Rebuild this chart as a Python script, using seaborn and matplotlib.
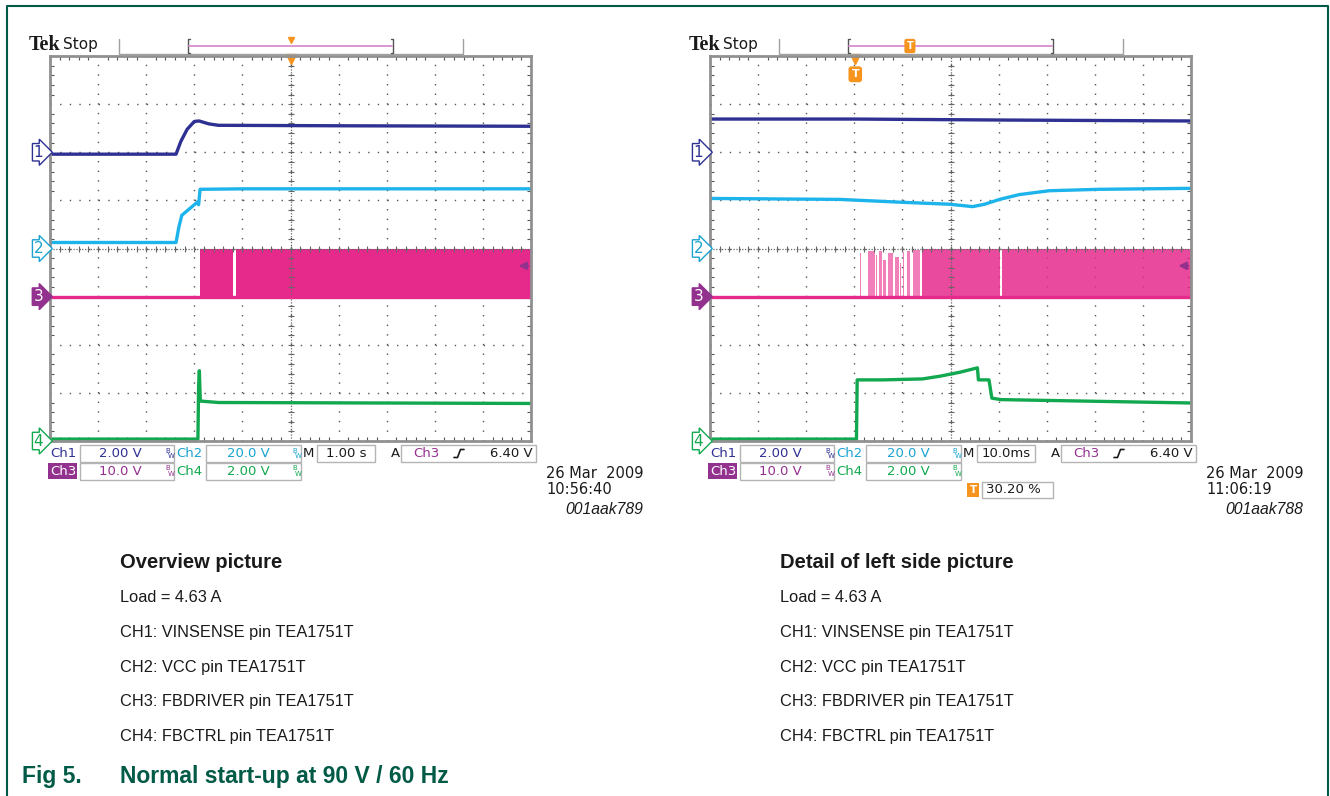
import numpy as np
import pandas as pd
import matplotlib
matplotlib.use('Agg')
import matplotlib.pyplot as plt
import seaborn as sns
from matplotlib.patches import Rectangle
from matplotlib.lines import Line2D

sns.set_theme(style='white')
plt.rcParams['font.family'] = ['DejaVu Sans']

# <------------------------------------------------> data
# channel settings: volts per division and marker position in divisions
ch_names = ['Ch1', 'Ch2', 'Ch3', 'Ch4']
ch_scale = [2.0, 20.0, 10.0, 2.0]
ch_scale_txt = ['2.00 V', '20.0 V', '10.0 V', '2.00 V']
ch_offset = [6, 4, 3, 0]
trig_level = 6.40  # V on Ch3

# overview, 1.00 s/div, time in s
ov_ch1_t = [0, 2.62, 2.72, 2.85, 3.0, 3.1, 3.3, 3.5, 6.0, 10.0]
ov_ch1_v = [-0.08, -0.08, 0.45, 0.95, 1.28, 1.30, 1.18, 1.12, 1.10, 1.08]
ov_ch2_t = [0, 2.62, 2.68, 2.74, 2.9, 3.06, 3.09, 3.12, 4.0, 10.0]
ov_ch2_v = [2.5, 2.5, 9.0, 13.8, 16.5, 19.2, 18.2, 24.6, 24.8, 24.8]
ov_ch3_bursts = [(3.12, 3.81), (3.86, 10.0)]
ov_ch3_high = [9.8, 9.8]
ov_ch4_t = [0, 3.075, 3.09, 3.105, 3.125, 3.5, 10.0]
ov_ch4_v = [0.08, 0.08, 2.3, 2.92, 1.66, 1.60, 1.56]

# detail, 10.0 ms/div, time in ms, trigger at 30.20 %
dt_ch1_t = [0, 30, 60, 100]
dt_ch1_v = [1.38, 1.38, 1.34, 1.30]
dt_ch2_t = [0, 27.0, 40.0, 49.8, 54.6, 57.1, 60.2, 64.3, 70.5, 80.9, 100]
dt_ch2_v = [20.8, 20.4, 19.2, 18.4, 17.4, 18.4, 20.4, 22.4, 24.0, 24.6, 25.0]
dt_ch3_bursts = [(30.5, 30.6), (31.2, 31.3), (32.0, 32.1), (32.8, 34.2), (34.6, 34.7),
                 (35.1, 35.7), (35.9, 36.5), (37.1, 38.0), (38.4, 39.2), (39.6, 39.7),
                 (40.2, 40.3), (40.9, 41.5), (42.1, 43.6), (44.0, 60.2), (60.8, 100.0)]
dt_ch3_high = [8.8, 9.0, 8.4, 9.4, 8.6, 9.4, 7.6, 9.0, 8.2, 7.0, 9.2, 9.4, 9.6, 9.8, 9.8]
dt_ch4_t = [0, 30.45, 30.6, 36, 44.2, 48, 52, 55.6, 55.8, 58.0, 58.6, 60.5, 100]
dt_ch4_v = [0.08, 0.08, 2.54, 2.54, 2.58, 2.70, 2.86, 3.04, 2.54, 2.54, 1.78, 1.72, 1.58]

# <------------------------------------------------> colours
C1 = '#2e3192'
C2 = '#1db4ec'
C3 = '#e62a8c'
C4 = '#12a84f'
PURPLE = '#93318f'
ORANGE = '#f7941d'
GRID = '#555555'
FRAME = '#909090'
TXT = '#1a1a1a'
CAPTION = '#005a46'
ch_colors = [C1, '#1aa3d1', PURPLE, C4]

W, H = 1330, 796
fig = plt.figure(figsize=(W / 100, H / 100), dpi=100)


def fx(x):
    return x / W


def fy(y):
    return 1 - y / H


def fline(xs, ys, **kw):
    fig.add_artist(Line2D([fx(v) for v in xs], [fy(v) for v in ys], **kw))


def frect(x0, y0, x1, y1, **kw):
    fig.add_artist(Rectangle((fx(x0), fy(y1)), fx(x1) - fx(x0), (y1 - y0) / H, **kw))


def ftext(x, y, s, **kw):
    kw.setdefault('va', 'center')
    kw.setdefault('fontsize', 9.5)
    fig.text(fx(x), fy(y), s, **kw)


def bw(x, y, c):
    ftext(x, y - 3, 'B', fontsize=5, color=c)
    ftext(x + 3, y + 2, 'W', fontsize=5, color=c)


def draw_scope(gx, t_div, tb_txt, trig_pct, traces, bursts, highs, burst_alpha,
               date_txt, time_txt, code_txt, show_tpos):
    gy0, gy1 = 56, 441
    ax = fig.add_axes([fx(gx), fy(gy1), 481 / W, (gy1 - gy0) / H])
    ax.set_xlim(0, 10)
    ax.set_ylim(0, 8)

    # graticule
    ax.set_xticks(range(11))
    ax.set_yticks(range(9))
    ax.set_xticks(np.arange(0, 10.01, 0.2), minor=True)
    ax.set_yticks(np.arange(0, 8.01, 0.2), minor=True)
    ax.tick_params(which='both', direction='in', top=True, right=True, bottom=True, left=True,
                   labelbottom=False, labelleft=False, color=GRID, width=0.8)
    ax.tick_params(which='major', length=0)
    ax.tick_params(which='minor', length=3)
    ax.grid(True, which='major', color=GRID, lw=1.0, ls=(0, (1.0, 5.93)))
    ax.axvline(5, color='#666666', lw=0.9, ls=(0, (1, 1.3)))
    ax.axhline(4, color='#666666', lw=0.9, ls=(0, (1, 1.3)))
    ax.plot(np.full(41, 5.0), np.arange(0, 8.01, 0.2), ls='none', marker='_', ms=5,
            mew=0.8, color='#666666')
    ax.plot(np.arange(0, 10.01, 0.2), np.full(51, 4.0), ls='none', marker='|', ms=5,
            mew=0.8, color='#666666')
    for s in ax.spines.values():
        s.set_color(FRAME)
        s.set_linewidth(2)

    # ch3 switching bursts, drawn under the line
    for (a, b), h, al in zip(bursts, highs, burst_alpha):
        ax.fill_between([a / t_div, b / t_div], ch_offset[2], ch_offset[2] + h / ch_scale[2],
                        color=C3, alpha=al, lw=0)

    cols = [C1, C2, C3, C4]
    for i, (tt, vv) in enumerate(traces):
        df = pd.DataFrame({'x': np.array(tt) / t_div,
                           'y': np.array(vv) / ch_scale[i] + ch_offset[i]})
        sns.lineplot(data=df, x='x', y='y', ax=ax, color=cols[i], lw=2.4,
                     estimator=None, sort=False)
    ax.set_xlabel('')
    ax.set_ylabel('')

    # channel markers at the left of the graticule
    for i, name in enumerate(ch_names):
        c = ch_colors[i]
        filled = (i == 2)
        ax.text(-0.14, ch_offset[i], name[-1], ha='right', va='center', fontsize=11,
                color='white' if filled else c, clip_on=False,
                bbox=dict(boxstyle='rarrow,pad=0.08', fc=c if filled else 'white', ec=c, lw=1))

    # trigger level on ch3
    lvl = trig_level / ch_scale[2] + ch_offset[2]
    ax.annotate('', xy=(9.68, lvl), xytext=(10.0, lvl),
                arrowprops=dict(arrowstyle='-|>', color=PURPLE, lw=1.6, mutation_scale=11))

    # trigger position marker at top of graticule
    tx = trig_pct / 100 * 10
    ax.plot([tx], [7.93], marker='v', ms=7, color=ORANGE, clip_on=False, mec=ORANGE)
    if show_tpos:
        ax.text(tx, 7.62, 'T', ha='center', va='center', fontsize=8, color='white',
                weight='bold', bbox=dict(boxstyle='round,pad=0.2', fc=ORANGE, ec=ORANGE))

    # header
    dx = gx - 50
    ftext(29 + dx, 45, 'Tek', family='Liberation Serif', weight='bold', fontsize=14.5, color=TXT)
    ftext(63 + dx, 45, 'Stop', fontsize=11, color=TXT)
    fline([119 + dx, 119 + dx, 463 + dx, 463 + dx], [39, 54, 54, 39], color='#a0a0a0', lw=1)
    fline([190 + dx, 188 + dx, 188 + dx, 190 + dx], [39, 39, 53, 53], color='#555555', lw=1)
    fline([391 + dx, 393 + dx, 393 + dx, 391 + dx], [39, 39, 53, 53], color='#555555', lw=1)
    fline([189 + dx, 392 + dx], [45.5, 45.5], color='#d98ed0', lw=1.3)
    bx = 188 + dx + trig_pct / 100 * 205
    if show_tpos:
        ftext(bx, 46, 'T', ha='center', fontsize=7, color='white', weight='bold',
              bbox=dict(boxstyle='round,pad=0.15', fc=ORANGE, ec=ORANGE))
    else:
        fig.add_artist(Line2D([fx(bx)], [fy(40)], marker='v', ms=5, color=ORANGE))

    # readout rows
    r1, r2 = 453.5, 471.5
    box = dict(fill=False, ec='#b4b4b4', lw=1)
    ftext(gx, r1, 'Ch1', color=C1)
    frect(gx + 30, 445, gx + 124, 462, **box)
    ftext(gx + 70, r1, ch_scale_txt[0], ha='center', color=C1)
    bw(gx + 115, r1, C1)
    ftext(gx + 126, r1, 'Ch2', color=ch_colors[1])
    frect(gx + 156, 445, gx + 251, 462, **box)
    ftext(gx + 198, r1, ch_scale_txt[1], ha='center', color=ch_colors[1])
    bw(gx + 242, r1, ch_colors[1])
    ftext(gx + 258, r1, 'M', ha='center', color=TXT)
    frect(gx + 267, 445, gx + 325, 462, **box)
    ftext(gx + 296, r1, tb_txt, ha='center', color=TXT)
    ftext(gx + 345, r1, 'A', ha='center', color=TXT)
    frect(gx + 351, 445, gx + 486, 462, **box)
    ftext(gx + 363, r1, 'Ch3', color=PURPLE)
    ex, ey = gx + 409, r1
    fline([ex - 5, ex - 1.5, ex + 1.5, ex + 5], [ey + 4, ey + 4, ey - 4, ey - 4], color=TXT, lw=1.2)
    ftext(gx + 483, r1, f'{trig_level:.2f} V', ha='right', color=TXT)

    frect(gx - 2, 463, gx + 27, 479, fc=PURPLE, ec='none')
    ftext(gx, r2, 'Ch3', color='white')
    frect(gx + 30, 463, gx + 124, 480, **box)
    ftext(gx + 70, r2, ch_scale_txt[2], ha='center', color=PURPLE)
    bw(gx + 115, r2, PURPLE)
    ftext(gx + 126, r2, 'Ch4', color=C4)
    frect(gx + 156, 463, gx + 251, 480, **box)
    ftext(gx + 198, r2, ch_scale_txt[3], ha='center', color=C4)
    bw(gx + 242, r2, C4)

    if show_tpos:
        r3 = 490
        frect(gx + 257, 483, gx + 269, 497, fc=ORANGE, ec='none')
        ftext(gx + 263, r3, 'T', ha='center', fontsize=7.5, color='white', weight='bold')
        frect(gx + 272, 482, gx + 343, 498, **box)
        ftext(gx + 276, r3, f'{trig_pct:.2f} %', color=TXT)

    ftext(gx + 496, 473, date_txt, color=TXT, fontsize=10.5)
    ftext(gx + 496, 489.5, time_txt, color=TXT, fontsize=10.5)
    ftext(gx + 593, 510, code_txt, ha='right', style='italic', family='Liberation Sans',
          fontsize=11.3, color=TXT)
    return ax


draw_scope(50, 1.0, '1.00 s', 50.0,
           [(ov_ch1_t, ov_ch1_v), (ov_ch2_t, ov_ch2_v), ([0, 10], [0, 0]), (ov_ch4_t, ov_ch4_v)],
           ov_ch3_bursts, ov_ch3_high, [1.0, 1.0],
           '26 Mar  2009', '10:56:40', '001aak789', False)
draw_scope(710, 10.0, '10.0ms', 30.20,
           [(dt_ch1_t, dt_ch1_v), (dt_ch2_t, dt_ch2_v), ([0, 100], [0, 0]), (dt_ch4_t, dt_ch4_v)],
           dt_ch3_bursts, dt_ch3_high, [0.6] * 13 + [0.85, 0.85],
           '26 Mar  2009', '11:06:19', '001aak788', True)

# <------------------------------------------------> description text
desc_lines = ['Load = 4.63 A', 'CH1: VINSENSE pin TEA1751T', 'CH2: VCC pin TEA1751T',
              'CH3: FBDRIVER pin TEA1751T', 'CH4: FBCTRL pin TEA1751T']
for x0, title in [(120, 'Overview picture'), (780, 'Detail of left side picture')]:
    ftext(x0, 563, title, family='Liberation Sans', weight='bold', fontsize=14.5, color=TXT)
    for k, line in enumerate(desc_lines):
        ftext(x0, 598 + k * 34.6, line, family='Liberation Sans', fontsize=11.8, color=TXT)

ftext(22, 776, 'Fig 5.', family='Liberation Sans', weight='bold', fontsize=16.5, color=CAPTION)
ftext(120, 776, 'Normal start-up at 90 V / 60 Hz', family='Liberation Sans', weight='bold',
      fontsize=16.5, color=CAPTION)

# page frame
fline([7, 7, 1328, 1328], [800, 6, 6, 800], color=CAPTION, lw=1.5)

fig.savefig('out.png', dpi=100)
